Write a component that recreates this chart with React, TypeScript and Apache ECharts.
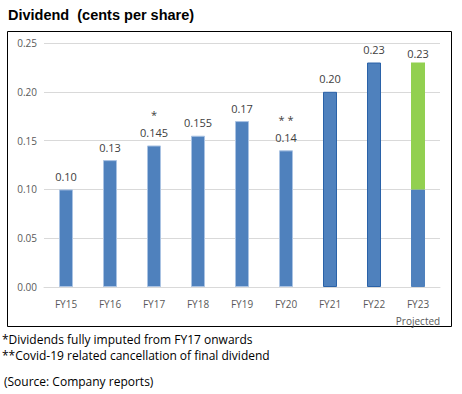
import React, { useEffect, useRef } from "react";
import * as echarts from "echarts";

const categories = ["FY15", "FY16", "FY17", "FY18", "FY19", "FY20", "FY21", "FY22", "FY23\nProjected"];
const baseValues = [0.10, 0.13, 0.145, 0.155, 0.17, 0.14, 0.20, 0.23, 0.10];
const projectedExtra = [null, null, null, null, null, null, null, null, 0.13];
const totalLabels = ["0.10", "0.13", "0.145", "0.155", "0.17", "0.14", "0.20", "0.23", "0.23"];
const markers = ["", "", "*", "", "", "* *", "", "", ""];
const yTicks = [0, 0.05, 0.1, 0.15, 0.2, 0.25];

const FONT = "'Liberation Sans', Arial, sans-serif";
const BODY = "'Open Sans', 'Liberation Sans', sans-serif";

export default function App() {
  const ref = useRef<HTMLDivElement>(null);
  useEffect(() => {
    document.body.style.margin = "0";
    const chart = echarts.init(ref.current!, null, { renderer: "svg" });
    const blue = "#4f81bd";
    chart.setOption({
      animation: false,
      backgroundColor: "#ffffff",
      grid: { left: 44, right: 22, top: 43, bottom: 107 },
      xAxis: {
        type: "category",
        data: categories,
        axisTick: { show: false },
        axisLine: { lineStyle: { color: "#d9d9d9" } },
        axisLabel: { interval: 0, color: "#595959", fontSize: 10, fontFamily: BODY, lineHeight: 17, margin: 8 },
      },
      yAxis: {
        type: "value",
        min: yTicks[0],
        max: yTicks[yTicks.length - 1],
        interval: 0.05,
        axisLine: { show: false },
        axisTick: { show: false },
        splitLine: { lineStyle: { color: "#d9d9d9" } },
        axisLabel: { color: "#595959", fontSize: 10, fontFamily: BODY, formatter: (v: number) => v.toFixed(2), margin: 7 },
      },
      series: [
        {
          type: "bar",
          stack: "d",
          barWidth: 14,
          data: baseValues.map((v, i) => ({
            value: v,
            itemStyle: {
              color: blue,
              borderColor: i >= 6 && i < 8 ? "#2a62a8" : i === 8 ? blue : "#aac3e3",
              borderWidth: 1,
            },
            label: {
              show: i < 8,
              position: "top",
              distance: 4,
              color: "#404040",
              fontSize: 11,
              fontFamily: BODY,
              lineHeight: 18,
              formatter: () => (markers[i] ? `{m|${markers[i]}}\n${totalLabels[i]}` : totalLabels[i]),
              rich: { m: { fontSize: 11, color: "#404040", fontFamily: BODY, lineHeight: 18 } },
            },
          })),
        },
        {
          type: "bar",
          stack: "d",
          barWidth: 14,
          itemStyle: { color: "#92d050" },
          data: projectedExtra,
          label: {
            show: true,
            position: "top",
            distance: 4,
            color: "#404040",
            fontSize: 11,
            fontFamily: BODY,
            formatter: (p: any) => totalLabels[p.dataIndex],
          },
        },
      ],
      graphic: [
        {
          type: "text",
          left: 8,
          top: 7,
          style: { text: "Dividend  (cents per share)", font: `bold 14.5px ${FONT}`, fill: "#000" },
        },
        {
          type: "rect",
          shape: { x: 7.5, y: 31.5, width: 444, height: 295 },
          style: { fill: "none", stroke: "#000", lineWidth: 1 },
          silent: true,
        },
        {
          type: "text",
          left: 2,
          top: 333,
          style: { text: "*Dividends fully imputed from FY17 onwards", font: `12px ${BODY}`, fill: "#000" },
        },
        {
          type: "text",
          left: 2,
          top: 349,
          style: { text: "**Covid-19 related cancellation of final dividend", font: `12px ${BODY}`, fill: "#000" },
        },
        {
          type: "text",
          left: 4,
          top: 375,
          style: { text: "(Source: Company reports)", font: `12px ${BODY}`, fill: "#000" },
        },
      ],
    });
    return () => chart.dispose();
  }, []);
  return <div ref={ref} style={{ position: "absolute", left: 0, top: 0, width: 462, height: 394 }} />;
}
